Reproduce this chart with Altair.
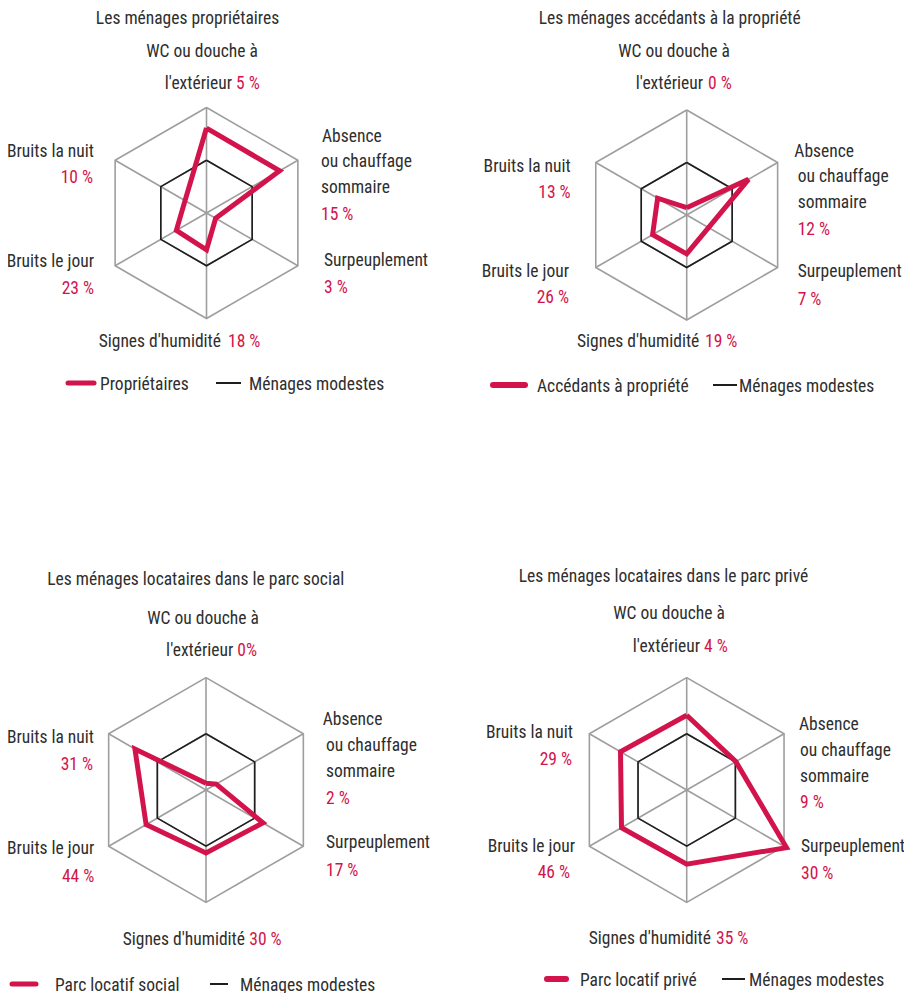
import altair as alt
import pandas as pd

# ---------------- data ----------------
categories = ["WC ou douche à l'extérieur", "Absence ou chauffage sommaire", "Surpeuplement",
              "Signes d'humidité", "Bruits le jour", "Bruits la nuit"]
category_lines = [["WC ou douche à", "l'extérieur"], ["Absence", "ou chauffage", "sommaire"],
                  ["Surpeuplement"], ["Signes d'humidité"], ["Bruits le jour"], ["Bruits la nuit"]]

panel_ids = ["proprietaires", "accedants", "social", "prive"]
panel_titles = ["Les ménages propriétaires", "Les ménages accédants à la propriété",
                "Les ménages locataires dans le parc social", "Les ménages locataires dans le parc privé"]
series_names = ["Propriétaires", "Accédants à propriété", "Parc locatif social", "Parc locatif privé"]
reference_name = "Ménages modestes"

# percentage labels shown on the chart
pct_proprietaires = ["5 %", "15 %", "3 %", "18 %", "23 %", "10 %"]
pct_accedants = ["0 %", "12 %", "7 %", "19 %", "26 %", "13 %"]
pct_social = ["0%", "2 %", "17 %", "30 %", "44 %", "31 %"]
pct_prive = ["4 %", "9 %", "30 %", "35 %", "46 %", "29 %"]

# radial index (Ménages modestes = 1)
idx_proprietaires = [1.61, 1.60, 0.20, 0.70, 0.66, 0.47]
idx_accedants = [0.14, 1.36, 0.48, 0.74, 0.75, 0.64]
idx_social = [0.12, 0.21, 1.17, 1.12, 1.23, 1.46]
idx_prive = [1.33, 1.01, 2.05, 1.32, 1.34, 1.36]
idx_reference = [1, 1, 1, 1, 1, 1]
grid_levels = [1, 2]

pct = dict(zip(panel_ids, [pct_proprietaires, pct_accedants, pct_social, pct_prive]))
idx = dict(zip(panel_ids, [idx_proprietaires, idx_accedants, idx_social, idx_prive]))

# ---------------- layout (page pixels) ----------------
RED = "#d3134b"
DARK = "#2e2e2e"
GRID = "#9e9e9e"
BLACK = "#1e1e1e"
FONT = "Roboto Condensed, Liberation Sans Narrow, DejaVu Sans Condensed, sans-serif"
FS = 17.5

geom = {
    "proprietaires": dict(cx=206.5, cy=213.0, k=52.75),
    "accedants": dict(cx=686.7, cy=215.0, k=52.5),
    "social": dict(cx=206.0, cy=790.0, k=56.2),
    "prive": dict(cx=686.7, cy=790.0, k=56.2),
}

labels_pos = {
    "proprietaires": dict(title=(187.5, 17), wc1=(202, 50), wc2=(232, 236, 82),
                          absx=(322, 321), absy=[135, 160.7, 186.7, 213.3],
                          surp=(324, 259.3, 286.7), hum=(221, 228, 340.7),
                          jour=(94, 94, 260.7, 287.7), nuit=(94, 93, 150, 176.7)),
    "accedants": dict(title=(669.7, 17), wc1=(674, 50), wc2=(703, 708, 82),
                      absx=(794.3, 797.7), absy=[150, 175.3, 201.7, 228.3],
                      surp=(797.7, 270.7, 298.3), hum=(699.3, 705, 340),
                      jour=(569, 569, 270, 296.7), nuit=(570.7, 570.7, 165, 191.7)),
    "social": dict(title=(195.8, 578.3), wc1=(203, 617.3), wc2=(233.3, 237.3, 649.3),
                   absx=(322.7, 326), absy=[718.3, 744, 770.7, 797.3],
                   surp=(326, 841.7, 869.3), hum=(245, 249.3, 938.3),
                   jour=(94.3, 94.3, 847.3, 875), nuit=(94, 93, 736.7, 763.3)),
    "prive": dict(title=(663.5, 575), wc1=(669, 612), wc2=(700, 704, 645),
                  absx=(799, 800), absy=[723, 749, 775, 801],
                  surp=(801, 845, 872), hum=(711, 716, 937),
                  jour=(575, 570, 845, 871), nuit=(573, 572, 731, 758)),
}

legend_pos = {
    "proprietaires": dict(y=383, red=(68, 94, 5), t1=100, blk=(216, 241), t2=249),
    "accedants": dict(y=385, red=(493, 525, 6), t1=537, blk=(713, 737), t2=739),
    "social": dict(y=984, red=(12, 36, 5), t1=55, blk=(210, 228), t2=240),
    "prive": dict(y=979, red=(547, 566, 6), t1=580, blk=(722, 745), t2=749),
}

# ---------------- build tables ----------------
poly_rows = []
for p in panel_ids:
    g = geom[p]
    layers = [("grid1", [grid_levels[0]] * 6), ("grid2", [grid_levels[1]] * 6),
              ("ref", idx_reference), ("series", idx[p])]
    for name, vals in layers:
        for o in range(7):
            i = o % 6
            poly_rows.append(dict(panel=p, layer=name, grp=p + "_" + name, o=o, i=i,
                                  r=vals[i], cx=g["cx"], cy=g["cy"], k=g["k"]))
poly = pd.DataFrame(poly_rows)

spoke_rows = []
for p in panel_ids:
    g = geom[p]
    for i in range(6):
        spoke_rows.append(dict(panel=p, i=i, r=grid_levels[-1], cx=g["cx"], cy=g["cy"], k=g["k"]))
spokes = pd.DataFrame(spoke_rows)

text_rows = []
for pi, p in enumerate(panel_ids):
    L = labels_pos[p]
    v = pct[p]
    text_rows.append(dict(text=panel_titles[pi], x=L["title"][0], y=L["title"][1], align="center", color=DARK))
    # WC
    text_rows.append(dict(text=category_lines[0][0], x=L["wc1"][0], y=L["wc1"][1], align="center", color=DARK))
    text_rows.append(dict(text=category_lines[0][1], x=L["wc2"][0], y=L["wc2"][2], align="right", color=DARK))
    text_rows.append(dict(text=v[0], x=L["wc2"][1], y=L["wc2"][2], align="left", color=RED))
    # Absence
    for j, line in enumerate(category_lines[1]):
        text_rows.append(dict(text=line, x=L["absx"][0 if j == 0 else 1], y=L["absy"][j], align="left", color=DARK))
    text_rows.append(dict(text=v[1], x=L["absx"][1], y=L["absy"][3], align="left", color=RED))
    # Surpeuplement
    text_rows.append(dict(text=category_lines[2][0], x=L["surp"][0], y=L["surp"][1], align="left", color=DARK))
    text_rows.append(dict(text=v[2], x=L["surp"][0], y=L["surp"][2], align="left", color=RED))
    # Humidité
    text_rows.append(dict(text=category_lines[3][0], x=L["hum"][0], y=L["hum"][2], align="right", color=DARK))
    text_rows.append(dict(text=v[3], x=L["hum"][1], y=L["hum"][2], align="left", color=RED))
    # Bruits le jour
    text_rows.append(dict(text=category_lines[4][0], x=L["jour"][0], y=L["jour"][2], align="right", color=DARK))
    text_rows.append(dict(text=v[4], x=L["jour"][1], y=L["jour"][3], align="right", color=RED))
    # Bruits la nuit
    text_rows.append(dict(text=category_lines[5][0], x=L["nuit"][0], y=L["nuit"][2], align="right", color=DARK))
    text_rows.append(dict(text=v[5], x=L["nuit"][1], y=L["nuit"][3], align="right", color=RED))
    # legend texts
    lg = legend_pos[p]
    text_rows.append(dict(text=series_names[pi], x=lg["t1"], y=lg["y"], align="left", color=DARK))
    text_rows.append(dict(text=reference_name, x=lg["t2"], y=lg["y"], align="left", color=DARK))
texts = pd.DataFrame(text_rows)

red_sw = pd.DataFrame([dict(x=legend_pos[p]["red"][0], x2=legend_pos[p]["red"][1], y=legend_pos[p]["y"],
                            w=legend_pos[p]["red"][2]) for p in panel_ids])
blk_sw = pd.DataFrame([dict(x=legend_pos[p]["blk"][0], x2=legend_pos[p]["blk"][1], y=legend_pos[p]["y"])
                       for p in panel_ids])

# ---------------- chart ----------------
W, H = 896, 985
xs = alt.Scale(domain=[8, 8 + W], nice=False, zero=False)
ys = alt.Scale(domain=[8, 8 + H], nice=False, zero=False, reverse=True)

px_expr = "datum.cx + datum.k * datum.r * sin(datum.i * PI / 3)"
py_expr = "datum.cy - datum.k * datum.r * cos(datum.i * PI / 3)"

poly_base = alt.Chart(poly).transform_calculate(px=px_expr, py=py_expr)


def poly_layer(filter_expr, color, width, join="miter"):
    return poly_base.transform_filter(filter_expr).mark_line(
        color=color, strokeWidth=width, strokeJoin=join, clip=False
    ).encode(
        x=alt.X("px:Q", scale=xs, axis=None),
        y=alt.Y("py:Q", scale=ys, axis=None),
        order=alt.Order("o:Q"),
        detail=alt.Detail("grp:N"),
    )


grid_rings = poly_layer("datum.layer == 'grid1' || datum.layer == 'grid2'", GRID, 1.6)
spoke_layer = alt.Chart(spokes).transform_calculate(px=px_expr, py=py_expr).mark_rule(
    color=GRID, strokeWidth=1.6
).encode(
    x=alt.X("cx:Q", scale=xs, axis=None),
    y=alt.Y("cy:Q", scale=ys, axis=None),
    x2="px:Q",
    y2="py:Q",
)
ref_ring = poly_layer("datum.layer == 'ref'", BLACK, 1.6)
series_line = poly_layer("datum.layer == 'series'", RED, 5)

text_layers = []
for al in ["left", "center", "right"]:
    text_layers.append(
        alt.Chart(texts).transform_filter(f"datum.align == '{al}'").mark_text(
            align=al, baseline="middle", font=FONT, fontSize=FS, dy=1.5
        ).encode(
            x=alt.X("x:Q", scale=xs, axis=None),
            y=alt.Y("y:Q", scale=ys, axis=None),
            text="text:N",
            color=alt.Color("color:N", scale=None),
        )
    )

red_legend = alt.Chart(red_sw).mark_rule(color=RED, strokeCap="round").encode(
    x=alt.X("x:Q", scale=xs, axis=None),
    x2="x2:Q",
    y=alt.Y("y:Q", scale=ys, axis=None),
    strokeWidth=alt.StrokeWidth("w:Q", scale=None),
)
blk_legend = alt.Chart(blk_sw).mark_rule(color=BLACK, strokeWidth=2).encode(
    x=alt.X("x:Q", scale=xs, axis=None),
    x2="x2:Q",
    y=alt.Y("y:Q", scale=ys, axis=None),
)

chart = alt.layer(
    spoke_layer, grid_rings, ref_ring, series_line, red_legend, blk_legend, *text_layers
).properties(
    width=W, height=H, padding=0,
    autosize=alt.AutoSizeParams(type="none"),
    background="white",
).configure_view(stroke=None)

chart.save("out.html", embed_options={"renderer": "svg", "actions": False})
